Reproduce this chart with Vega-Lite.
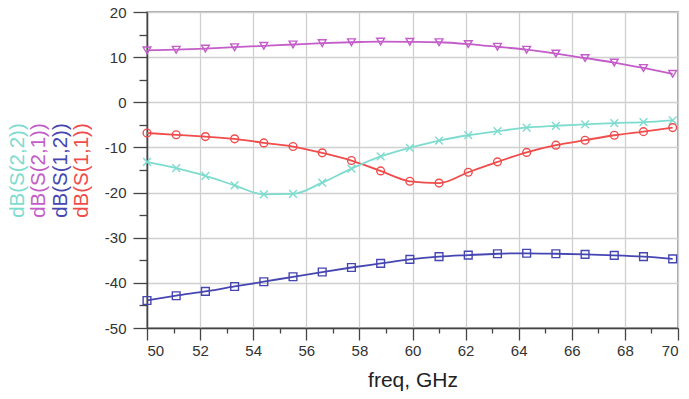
{
  "$schema": "https://vega.github.io/schema/vega-lite/v6.json",
  "width": 531,
  "height": 316,
  "autosize": {"type": "none"},
  "padding": {"left": 147, "top": 12, "right": 11, "bottom": 71},
  "data": {
    "values": [
      {"f": 50, "v": -13.2, "s": "dB(S(2,2))"}, {"f": 51.1, "v": -14.6, "s": "dB(S(2,2))"}, {"f": 52.2, "v": -16.3, "s": "dB(S(2,2))"}, {"f": 53.3, "v": -18.4, "s": "dB(S(2,2))"}, {"f": 54.4, "v": -20.4, "s": "dB(S(2,2))"}, {"f": 55.5, "v": -20.3, "s": "dB(S(2,2))"}, {"f": 56.6, "v": -17.8, "s": "dB(S(2,2))"}, {"f": 57.7, "v": -14.7, "s": "dB(S(2,2))"}, {"f": 58.8, "v": -12.0, "s": "dB(S(2,2))"}, {"f": 59.9, "v": -10.1, "s": "dB(S(2,2))"}, {"f": 61, "v": -8.5, "s": "dB(S(2,2))"}, {"f": 62.1, "v": -7.3, "s": "dB(S(2,2))"}, {"f": 63.2, "v": -6.4, "s": "dB(S(2,2))"}, {"f": 64.3, "v": -5.6, "s": "dB(S(2,2))"}, {"f": 65.4, "v": -5.2, "s": "dB(S(2,2))"}, {"f": 66.5, "v": -4.9, "s": "dB(S(2,2))"}, {"f": 67.6, "v": -4.6, "s": "dB(S(2,2))"}, {"f": 68.7, "v": -4.4, "s": "dB(S(2,2))"}, {"f": 69.8, "v": -4.0, "s": "dB(S(2,2))"},
      {"f": 50, "v": 11.5, "s": "dB(S(2,1))"}, {"f": 51.1, "v": 11.65, "s": "dB(S(2,1))"}, {"f": 52.2, "v": 11.9, "s": "dB(S(2,1))"}, {"f": 53.3, "v": 12.2, "s": "dB(S(2,1))"}, {"f": 54.4, "v": 12.5, "s": "dB(S(2,1))"}, {"f": 55.5, "v": 12.8, "s": "dB(S(2,1))"}, {"f": 56.6, "v": 13.1, "s": "dB(S(2,1))"}, {"f": 57.7, "v": 13.3, "s": "dB(S(2,1))"}, {"f": 58.8, "v": 13.45, "s": "dB(S(2,1))"}, {"f": 59.9, "v": 13.4, "s": "dB(S(2,1))"}, {"f": 61, "v": 13.3, "s": "dB(S(2,1))"}, {"f": 62.1, "v": 12.9, "s": "dB(S(2,1))"}, {"f": 63.2, "v": 12.3, "s": "dB(S(2,1))"}, {"f": 64.3, "v": 11.65, "s": "dB(S(2,1))"}, {"f": 65.4, "v": 10.8, "s": "dB(S(2,1))"}, {"f": 66.5, "v": 9.8, "s": "dB(S(2,1))"}, {"f": 67.6, "v": 8.8, "s": "dB(S(2,1))"}, {"f": 68.7, "v": 7.6, "s": "dB(S(2,1))"}, {"f": 69.8, "v": 6.3, "s": "dB(S(2,1))"},
      {"f": 50, "v": -43.9, "s": "dB(S(1,2))"}, {"f": 51.1, "v": -42.85, "s": "dB(S(1,2))"}, {"f": 52.2, "v": -41.9, "s": "dB(S(1,2))"}, {"f": 53.3, "v": -40.8, "s": "dB(S(1,2))"}, {"f": 54.4, "v": -39.75, "s": "dB(S(1,2))"}, {"f": 55.5, "v": -38.65, "s": "dB(S(1,2))"}, {"f": 56.6, "v": -37.6, "s": "dB(S(1,2))"}, {"f": 57.7, "v": -36.6, "s": "dB(S(1,2))"}, {"f": 58.8, "v": -35.7, "s": "dB(S(1,2))"}, {"f": 59.9, "v": -34.8, "s": "dB(S(1,2))"}, {"f": 61, "v": -34.2, "s": "dB(S(1,2))"}, {"f": 62.1, "v": -33.85, "s": "dB(S(1,2))"}, {"f": 63.2, "v": -33.55, "s": "dB(S(1,2))"}, {"f": 64.3, "v": -33.45, "s": "dB(S(1,2))"}, {"f": 65.4, "v": -33.55, "s": "dB(S(1,2))"}, {"f": 66.5, "v": -33.7, "s": "dB(S(1,2))"}, {"f": 67.6, "v": -33.9, "s": "dB(S(1,2))"}, {"f": 68.7, "v": -34.2, "s": "dB(S(1,2))"}, {"f": 69.8, "v": -34.7, "s": "dB(S(1,2))"},
      {"f": 50, "v": -6.8, "s": "dB(S(1,1))"}, {"f": 51.1, "v": -7.2, "s": "dB(S(1,1))"}, {"f": 52.2, "v": -7.6, "s": "dB(S(1,1))"}, {"f": 53.3, "v": -8.1, "s": "dB(S(1,1))"}, {"f": 54.4, "v": -9.0, "s": "dB(S(1,1))"}, {"f": 55.5, "v": -9.8, "s": "dB(S(1,1))"}, {"f": 56.6, "v": -11.2, "s": "dB(S(1,1))"}, {"f": 57.7, "v": -12.9, "s": "dB(S(1,1))"}, {"f": 58.8, "v": -15.2, "s": "dB(S(1,1))"}, {"f": 59.9, "v": -17.5, "s": "dB(S(1,1))"}, {"f": 61, "v": -17.9, "s": "dB(S(1,1))"}, {"f": 62.1, "v": -15.5, "s": "dB(S(1,1))"}, {"f": 63.2, "v": -13.2, "s": "dB(S(1,1))"}, {"f": 64.3, "v": -11.1, "s": "dB(S(1,1))"}, {"f": 65.4, "v": -9.5, "s": "dB(S(1,1))"}, {"f": 66.5, "v": -8.4, "s": "dB(S(1,1))"}, {"f": 67.6, "v": -7.3, "s": "dB(S(1,1))"}, {"f": 68.7, "v": -6.5, "s": "dB(S(1,1))"}, {"f": 69.8, "v": -5.6, "s": "dB(S(1,1))"}
    ]
  },
  "resolve": {"axis": {"x": "independent", "y": "independent"}},
  "layer": [
    {
      "transform": [{"filter": "datum.s === 'dB(S(1,1))'"}],
      "mark": {"type": "line", "interpolate": "monotone", "strokeWidth": 1.8},
      "encoding": {
        "x": {"field": "f", "type": "quantitative", "scale": {"domain": [50, 70], "nice": false, "zero": false},
          "axis": {"orient": "bottom", "values": [50, 52, 54, 56, 58, 60, 62, 64, 66, 68, 70], "tickSize": 12, "labelPadding": 3, "title": "freq, GHz", "titleFontSize": 21, "titleFontWeight": "normal", "titlePadding": 11, "grid": true}},
        "y": {"field": "v", "type": "quantitative", "scale": {"domain": [-50, 20], "nice": false, "zero": false},
          "axis": {"orient": "left", "values": [-50, -40, -30, -20, -10, 0, 10, 20], "labelExpr": "'' + datum.value", "tickSize": 14, "labelPadding": 7, "grid": true,
            "title": "dB(S(1,1))", "titleColor": "#f04c4c", "titlePadding": 13}},
        "color": {"field": "s", "type": "nominal", "legend": null,
          "scale": {"domain": ["dB(S(2,2))", "dB(S(2,1))", "dB(S(1,2))", "dB(S(1,1))"], "range": ["#7edccf", "#c45cc9", "#4646b2", "#f04c4c"]}}
      }
    },
    {
      "transform": [{"filter": "datum.s === 'dB(S(1,2))'"}],
      "mark": {"type": "line", "interpolate": "monotone", "strokeWidth": 1.8},
      "encoding": {
        "x": {"field": "f", "type": "quantitative", "axis": null},
        "y": {"field": "v", "type": "quantitative",
          "axis": {"orient": "left", "ticks": false, "labels": false, "domain": false, "grid": false,
            "title": "dB(S(1,2))", "titleColor": "#4646b2", "titlePadding": 77}},
        "color": {"field": "s", "type": "nominal", "legend": null}
      }
    },
    {
      "transform": [{"filter": "datum.s === 'dB(S(2,1))'"}],
      "mark": {"type": "line", "interpolate": "monotone", "strokeWidth": 1.8},
      "encoding": {
        "x": {"field": "f", "type": "quantitative", "axis": null},
        "y": {"field": "v", "type": "quantitative",
          "axis": {"orient": "left", "ticks": false, "labels": false, "domain": false, "grid": false,
            "title": "dB(S(2,1))", "titleColor": "#c45cc9", "titlePadding": 98.5}},
        "color": {"field": "s", "type": "nominal", "legend": null}
      }
    },
    {
      "transform": [{"filter": "datum.s === 'dB(S(2,2))'"}],
      "mark": {"type": "line", "interpolate": "monotone", "strokeWidth": 1.8},
      "encoding": {
        "x": {"field": "f", "type": "quantitative", "axis": null},
        "y": {"field": "v", "type": "quantitative",
          "axis": {"orient": "left", "ticks": false, "labels": false, "domain": false, "grid": false,
            "title": "dB(S(2,2))", "titleColor": "#7edccf", "titlePadding": 120}},
        "color": {"field": "s", "type": "nominal", "legend": null}
      }
    },
    {
      "mark": {"type": "point", "filled": false, "strokeWidth": 1.4, "size": 60, "opacity": 1},
      "encoding": {
        "x": {"field": "f", "type": "quantitative",
          "axis": {"orient": "bottom", "values": [51, 53, 55, 57, 59, 61, 63, 65, 67, 69], "tickSize": 5, "labels": false, "grid": false, "domain": false, "title": null}},
        "y": {"field": "v", "type": "quantitative",
          "axis": {"orient": "left", "values": [-45, -35, -25, -15, -5, 5, 15], "tickSize": 8, "labels": false, "grid": false, "domain": false, "title": null}},
        "color": {"field": "s", "type": "nominal", "legend": null},
        "shape": {"field": "s", "type": "nominal", "legend": null,
          "scale": {"domain": ["dB(S(2,2))", "dB(S(2,1))", "dB(S(1,2))", "dB(S(1,1))"], "range": ["M-1,-1L1,1M-1,1L1,-1", "triangle-down", "square", "circle"]}}
      }
    }
  ],
  "config": {
    "font": "Liberation Sans",
    "view": {"stroke": "#8a8a8a", "strokeWidth": 1.5},
    "axis": {"labelFontSize": 15, "labelColor": "#333", "titleColor": "#222", "titleFontSize": 20.5, "titleFontWeight": "normal", "tickColor": "#444", "tickWidth": 1.3, "domainColor": "#444", "domainWidth": 1.5, "gridColor": "#d0d0d0", "gridWidth": 1.3, "labelFont": "Liberation Sans", "titleFont": "Liberation Sans"}
  }
}
